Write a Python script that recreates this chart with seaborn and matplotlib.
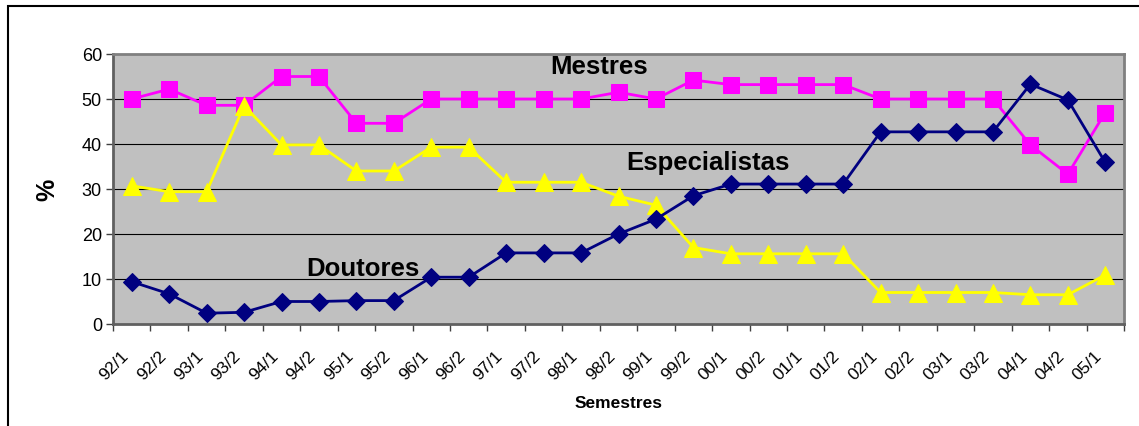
import numpy as np
import pandas as pd
import matplotlib
matplotlib.use("Agg")
import matplotlib.pyplot as plt
import seaborn as sns
from matplotlib.patches import Rectangle
from matplotlib.transforms import ScaledTranslation

semestres = ["92/1", "92/2", "93/1", "93/2", "94/1", "94/2", "95/1", "95/2",
             "96/1", "96/2", "97/1", "97/2", "98/1", "98/2", "99/1", "99/2",
             "00/1", "00/2", "01/1", "01/2", "02/1", "02/2", "03/1", "03/2",
             "04/1", "04/2", "05/1"]
mestres = [50, 52.2, 48.6, 48.6, 55, 55, 44.6, 44.6, 50, 50, 50, 50, 50, 51.5,
           50, 54.2, 53.2, 53.2, 53.2, 53.2, 50, 50, 50, 50, 39.8, 33.3, 47]
especialistas = [30.7, 29.4, 29.4, 48.5, 39.8, 39.8, 34, 34, 39.3, 39.3, 31.5,
                 31.5, 31.5, 28.4, 26.4, 17, 15.6, 15.6, 15.6, 15.6, 7, 7, 7, 7,
                 6.5, 6.5, 10.9]
doutores = [9.4, 6.7, 2.4, 2.6, 5.0, 5.0, 5.2, 5.2, 10.4, 10.4, 15.8, 15.8,
            15.8, 20, 23.3, 28.5, 31.1, 31.1, 31.1, 31.1, 42.7, 42.7, 42.7,
            42.7, 53.3, 49.8, 35.9]
yticks = [0, 10, 20, 30, 40, 50, 60]

sns.set_theme(style="white")
plt.rcParams['font.family'] = ['Liberation Sans', 'DejaVu Sans']
plt.rcParams['text.color'] = 'black'
plt.rcParams['axes.labelcolor'] = 'black'
plt.rcParams['xtick.color'] = 'black'
plt.rcParams['ytick.color'] = 'black'

fig = plt.figure(figsize=(11.39, 4.27), dpi=100)
ax = fig.add_axes([113/1139, 1 - 325/427, (1124-113)/1139, (325-55)/427])
ax.set_facecolor("#C0C0C0")

df = pd.DataFrame({"sem": semestres, "Mestres": mestres,
                   "Especialistas": especialistas, "Doutores": doutores})

sns.lineplot(data=df, x="sem", y="Mestres", ax=ax, color="#FF00FF",
             marker="s", markersize=12, markeredgecolor="#FF00FF",
             linewidth=2, sort=False, zorder=3)
sns.lineplot(data=df, x="sem", y="Especialistas", ax=ax, color="#FFFF00",
             marker="^", markersize=13, markeredgecolor="#FFFF00",
             linewidth=2, sort=False, zorder=3)
sns.lineplot(data=df, x="sem", y="Doutores", ax=ax, color="#000080",
             marker="D", markersize=9, markeredgecolor="#000080",
             linewidth=2, sort=False, zorder=4)

ax.set_xlim(-0.5, len(semestres) - 0.5)
ax.set_ylim(0, 60)
ax.set_yticks(yticks)
ax.set_yticklabels([str(v) for v in yticks], fontsize=13)
for v in yticks[1:-1]:
    ax.axhline(v, color="black", linewidth=0.8, zorder=1)

ax.set_xticks(range(len(semestres)))
ax.set_xticklabels(semestres, rotation=45, ha="right", rotation_mode="anchor",
                   fontsize=12.5)
ax.tick_params(axis="x", which="major", length=0, pad=17)
shift = ScaledTranslation(-11/100, 0, fig.dpi_scale_trans)
for lab in ax.get_xticklabels():
    lab.set_transform(lab.get_transform() + shift)
ax.set_xticks(np.arange(-0.5, len(semestres)), minor=True)
ax.tick_params(axis="x", which="minor", length=5, width=1, color="#404040",
               direction="out", bottom=True)
ax.tick_params(axis="y", length=5, width=1, color="#404040", direction="out",
               left=True, pad=3)

for s in ax.spines.values():
    s.set_color("#808080")
    s.set_linewidth(2)
ax.spines["left"].set_color("#606060")
ax.spines["bottom"].set_color("#606060")

ax.set_xlabel("Semestres", fontsize=12.5, fontweight="bold", labelpad=9)
ax.set_ylabel("%", fontsize=18, fontweight="bold", labelpad=16)

ax.text(12.47, 57.3, "Mestres", fontsize=18.5, fontweight="bold",
        ha="center", va="center", zorder=5)
ax.text(15.4, 36.0, "Especialistas", fontsize=18.5, fontweight="bold",
        ha="center", va="center", zorder=5)
ax.text(6.17, 12.4, "Doutores", fontsize=18.5, fontweight="bold",
        ha="center", va="center", zorder=5)

fig.patches.append(Rectangle((8/1139, -0.05), 1.2, 1 - 7/427 + 0.05,
                             transform=fig.transFigure, fill=False,
                             edgecolor="black", linewidth=1.5))

fig.savefig("out.png", dpi=100)
